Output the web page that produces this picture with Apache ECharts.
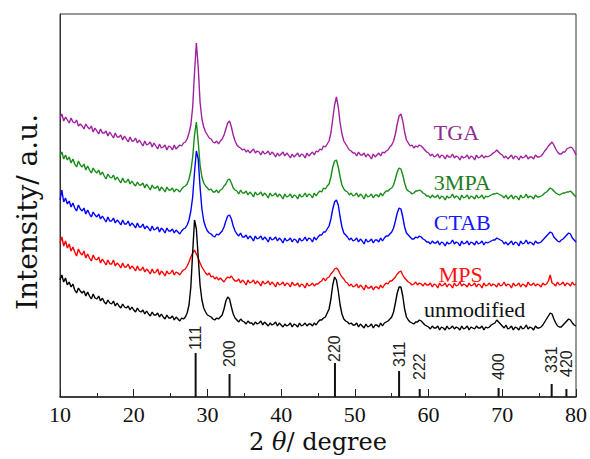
<!DOCTYPE html>
<html>
<head>
<meta charset="utf-8">
<script src="https://cdn.jsdelivr.net/npm/echarts@6/dist/echarts.min.js"></script>
<style>
  html, body { margin: 0; padding: 0; background: #fff; }
  #chart { width: 590px; height: 459px; }
</style>
</head>
<body>
<div id="chart"></div>
<script>
// 2theta sampling: 10 .. 80 deg, every 0.25 deg (281 points per pattern)
const thetaStart = 10
const thetaStep = 0.25

// intensities (arbitrary units, stacked offsets included)
const tga = [
  279,283,276,280, 277,274,279,275, 274,277,271,273, 271,268,273,270, 268,271,265,269,
  266,263,268,264, 264,266,261,265, 262,259,264,260, 260,262,257,261, 258,255,260,256,
  256,259,254,257, 254,251,256,252, 253,255,250,254, 251,248,253,249, 250,252,247,251,
  250,247,252,248, 250,252,251,254, 255,258,264,272, 290,325,354,330, 295,278,270,265,
  262,259,258,255, 254,256,253,256, 258,262,268,274, 276,270,262,256, 252,250,249,247,
  248,245,247,244, 246,248,244,246, 245,242,246,243, 244,246,242,245, 243,240,244,241,
  243,245,241,244, 242,239,243,240, 242,244,240,243, 242,239,244,241, 243,245,242,246,
  245,248,247,251, 250,253,256,264, 278,292,300,290, 274,263,256,253, 250,247,246,244,
  244,241,245,242, 242,244,240,243, 241,238,243,240, 242,244,241,245, 244,246,247,250,
  252,256,263,273, 281,283,276,265, 257,254,251,252, 249,251,250,252, 251,249,247,245,
  244,241,243,240, 241,243,239,242, 241,238,242,240, 240,243,239,241, 240,237,241,239,
  240,242,238,241, 240,237,242,239, 240,242,239,241, 240,241,242,244, 245,247,245,243,
  242,239,241,238, 240,242,238,241, 240,237,241,239, 240,242,238,240, 240,238,242,240,
  240,241,243,246, 248,251,253,255, 252,248,245,243, 243,245,245,248, 249,250,249,246,
  242
]
const mpa = [
  241,245,238,242, 237,240,234,238, 233,230,236,232, 230,233,227,231, 227,224,229,226,
  224,227,222,225, 221,218,223,220, 219,222,217,220, 217,214,219,215, 215,218,213,216,
  213,211,215,212, 212,214,209,213, 210,207,212,209, 209,211,206,210, 208,205,210,207,
  207,209,205,208, 207,205,208,210, 211,213,218,226, 240,262,275,255, 232,220,214,211,
  209,207,208,205, 205,207,204,207, 208,211,213,217, 218,214,209,207, 206,203,207,204,
  204,206,202,205, 203,200,205,202, 203,205,201,204, 202,199,204,201, 202,204,200,203,
  201,198,203,200, 201,203,199,202, 201,198,203,200, 201,204,200,203, 202,199,204,201,
  204,206,205,209, 208,211,213,220, 230,236,237,230, 220,212,208,206, 205,202,204,201,
  202,204,200,203, 201,198,203,200, 201,203,199,202, 202,200,204,201, 204,206,206,208,
  209,212,218,225, 229,228,222,214, 208,206,205,203, 204,206,206,207, 206,204,203,201,
  201,199,202,200, 200,202,198,201, 200,197,201,199, 200,203,199,201, 200,197,202,199,
  200,202,198,201, 200,198,202,199, 200,202,198,201, 200,201,202,203, 203,204,203,202,
  201,199,202,198, 200,202,198,201, 200,197,202,199, 200,203,199,201, 200,198,202,200,
  200,201,202,204, 205,207,209,208, 206,204,203,202, 203,204,204,205, 205,206,204,202,
  200
]
const ctab = [
  197,207,195,199, 193,196,190,194, 189,186,192,188, 186,189,183,187, 183,180,185,182,
  180,183,178,181, 178,175,180,176, 176,179,174,177, 175,172,177,173, 173,176,171,174,
  172,169,174,170, 170,173,168,171, 169,166,171,167, 168,170,165,169, 167,164,169,166,
  166,168,164,167, 165,163,166,168, 169,172,177,186, 200,225,246,238, 210,188,176,170,
  166,164,163,161, 160,163,162,164, 166,170,176,181, 182,178,171,166, 163,161,164,160,
  160,162,158,161, 159,156,161,158, 159,161,157,160, 158,155,160,157, 158,160,156,159,
  157,154,159,156, 157,159,155,158, 157,154,159,156, 157,160,156,159, 158,155,160,157,
  160,162,162,165, 165,168,171,178, 188,195,197,192, 180,170,164,162, 160,157,159,156,
  157,159,155,158, 156,153,158,155, 156,158,154,157, 157,155,159,156, 159,161,161,163,
  165,169,176,184, 189,188,180,170, 164,162,160,158, 158,160,159,161, 160,158,157,155,
  155,153,156,154, 154,156,152,155, 154,151,155,153, 154,157,153,155, 154,151,156,153,
  154,156,152,155, 154,152,156,153, 154,156,152,155, 154,155,156,157, 157,159,158,157,
  156,153,155,152, 154,156,152,155, 154,151,156,153, 154,157,153,155, 154,152,156,154,
  154,155,157,159, 161,163,165,164, 160,158,156,155, 157,158,160,162, 164,163,159,157,
  155
]
const mps = [
  154,160,151,156, 149,153,146,150, 145,141,148,144, 142,146,139,143, 139,136,142,138,
  137,140,134,138, 135,132,137,133, 133,137,131,134, 132,129,134,130, 130,133,128,131,
  129,126,131,127, 127,130,125,128, 126,123,128,124, 125,128,122,126, 124,121,126,123,
  124,127,122,125, 124,122,125,127, 128,131,135,140, 144,147,143,139, 134,130,127,124,
  122,124,120,121, 118,120,117,119, 117,115,118,120, 119,121,118,116, 116,118,114,117,
  115,112,117,114, 115,117,113,116, 114,111,116,113, 114,116,112,115, 113,110,115,112,
  113,115,111,114, 113,110,115,112, 112,114,110,113, 112,109,114,111, 112,114,111,113,
  113,115,116,119, 116,119,120,123, 125,128,129,127, 123,120,118,115, 114,111,113,110,
  111,113,109,112, 110,107,112,109, 109,111,107,110, 110,108,112,109, 112,114,113,116,
  116,118,120,123, 125,126,122,119, 117,115,114,112, 113,115,112,114, 113,111,114,112,
  112,114,110,113, 112,109,114,111, 112,114,110,113, 112,109,114,111, 112,115,111,113,
  112,110,114,111, 112,114,110,113, 112,109,114,111, 112,114,111,113, 112,110,114,111,
  112,115,111,113, 112,109,114,111, 112,114,110,113, 112,110,115,112, 112,114,111,113,
  112,110,114,112, 113,116,122,114, 113,111,115,112, 113,115,111,114, 113,111,115,112,
  113
]
const unmodified = [
  117,122,115,119, 112,115,110,113, 107,104,109,106, 104,106,101,105, 101,98,103,99,
  98,101,96,99, 95,93,97,94, 93,96,91,94, 91,89,93,90, 89,91,87,90,
  87,85,89,86, 85,87,83,86, 83,81,85,82, 82,84,80,83, 80,78,82,79,
  79,81,77,80, 78,76,79,78, 80,84,92,110, 145,177,168,140, 112,97,89,85,
  82,81,80,78, 77,79,78,80, 82,88,96,100, 98,90,83,79, 77,75,78,76,
  75,73,76,74, 74,72,75,73, 74,76,72,75, 73,71,74,72, 73,75,71,74,
  72,70,73,71, 72,74,70,73, 72,70,74,71, 72,74,71,73, 73,71,74,72,
  75,77,77,79, 80,84,88,98, 112,120,117,106, 92,83,78,76, 75,73,74,72,
  72,74,70,73, 71,69,73,70, 71,73,69,72, 72,70,74,71, 74,75,76,78,
  80,85,94,104, 110,110,101,88, 80,77,75,74, 73,75,75,77, 76,74,72,71,
  70,68,71,69, 69,71,67,70, 69,67,71,68, 69,71,68,70, 69,67,71,68,
  69,71,67,70, 69,68,71,69, 69,71,67,70, 69,70,72,73, 74,77,75,73,
  71,69,72,68, 69,71,67,70, 69,67,71,68, 69,72,68,70, 69,67,71,69,
  69,70,72,75, 78,81,84,83, 78,74,71,70, 70,72,74,76, 78,77,74,72,
  71
]

// reference pattern (sticks)
const hklLabels = ['111', '200', '220', '311', '222', '400', '331', '420']
const hklPos = [28.4, 33.0, 47.3, 56.0, 58.8, 69.5, 76.7, 78.7]
const hklHeight = [44, 23, 34, 26, 8, 9, 13, 8]

const sampleNames = ['TGA', '3MPA', 'CTAB', 'MPS', 'unmodified']
const xTicks = [10, 20, 30, 40, 50, 60, 70, 80]

// ---- styling ----
const lineColors = ['#a020a0', '#168c16', '#0000ff', '#ff0000', '#000000']
const textColors = ['#8e2a8e', '#1c7d1c', '#1717ff', '#ff1010', '#111111']
const namePos = [[60.65, 264.5], [60.65, 214.5], [60.65, 174.5], [61.3, 122.5], [59.3, 87.5]]
const hklGap = [3, 7, 1, 4, 9, 8, 11, 12]

function toPairs(arr) {
  return arr.map((v, i) => [thetaStart + i * thetaStep, v])
}

var chart = echarts.init(document.getElementById('chart'), null, { renderer: 'svg' })

const patterns = [tga, mpa, ctab, mps, unmodified]
const series = patterns.map((arr, k) => ({
  name: sampleNames[k],
  type: 'line',
  data: toPairs(arr),
  showSymbol: false,
  symbol: 'none',
  lineStyle: { color: lineColors[k], width: 1.4 },
  z: 2 + k,
  markPoint: {
    symbol: 'rect',
    symbolSize: 1,
    itemStyle: { color: 'transparent' },
    label: {
      show: true,
      position: 'right',
      distance: 0,
      formatter: sampleNames[k],
      fontFamily: 'Liberation Serif',
      fontSize: 22,
      color: textColors[k]
    },
    data: [{ coord: namePos[k] }]
  }
}))

series.push({
  name: 'hkl',
  type: 'bar',
  barWidth: 2,
  itemStyle: { color: '#111' },
  data: hklPos.map((p, i) => ({
    value: [p, hklHeight[i]],
    label: { distance: hklGap[i] }
  })),
  label: {
    show: true,
    position: 'top',
    rotate: 90,
    align: 'left',
    verticalAlign: 'middle',
    formatter: (p) => hklLabels[p.dataIndex],
    fontFamily: 'Liberation Sans',
    fontSize: 16,
    color: '#222'
  },
  z: 10
})

var option = {
  animation: false,
  backgroundColor: '#fff',
  grid: {
    left: 60, right: 9, top: 14, bottom: 62,
    show: true, borderColor: '#333', borderWidth: 1
  },
  xAxis: {
    type: 'value',
    min: xTicks[0],
    max: xTicks[xTicks.length - 1],
    interval: 10,
    axisLine: { lineStyle: { color: '#222', width: 1.5 } },
    axisTick: { inside: true, length: 8, lineStyle: { color: '#222', width: 1 } },
    minorTick: { show: true, splitNumber: 2, length: 4, lineStyle: { color: '#222', width: 1 } },
    splitLine: { show: false },
    axisLabel: {
      fontFamily: 'Liberation Serif', fontSize: 22, color: '#111', margin: 6
    },
    name: '2 {i|θ}/ degree',
    nameLocation: 'middle',
    nameGap: 33,
    nameTextStyle: {
      fontFamily: 'DejaVu Serif', fontSize: 24, color: '#111',
      rich: { i: { fontFamily: 'DejaVu Serif', fontStyle: 'italic', fontSize: 24, color: '#111' } }
    }
  },
  yAxis: {
    type: 'value',
    min: 0,
    max: 383,
    axisLine: { show: true, lineStyle: { color: '#333', width: 1 } },
    axisTick: { show: false },
    axisLabel: { show: false },
    splitLine: { show: false }
  },
  graphic: [{
    type: 'text',
    x: 27,
    y: 212,
    rotation: Math.PI / 2,
    style: {
      text: 'Intensity/ a.u.',
      font: '28px "DejaVu Serif"',
      fill: '#111',
      textAlign: 'center',
      textVerticalAlign: 'middle'
    }
  }],
  series: series
}

chart.setOption(option)
window.addEventListener('resize', function () {
  chart.resize()
})
</script>
</body>
</html>
